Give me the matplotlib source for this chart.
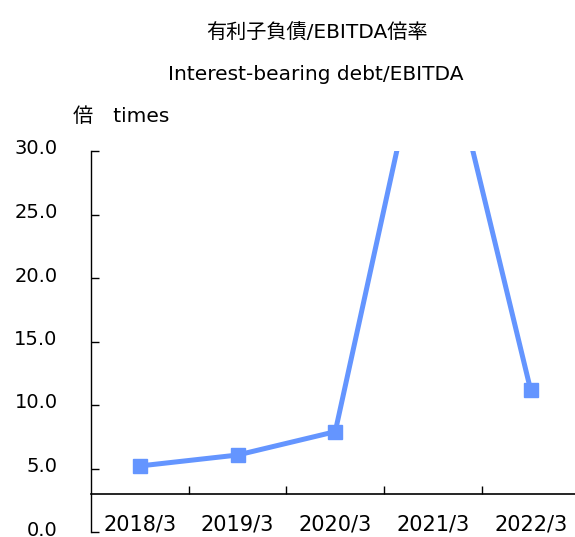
#!/usr/bin/env python3
"""Interest-bearing debt / EBITDA ratio line chart."""

import matplotlib

matplotlib.use("Agg")
import matplotlib.pyplot as plt
from matplotlib.transforms import ScaledTranslation

FONTS = ["DejaVu Sans", "Noto Sans CJK JP"]
plt.rcParams["font.family"] = FONTS

periods = ["2018/3", "2019/3", "2020/3", "2021/3", "2022/3"]
ratio = [5.2, 6.06, 7.9, 43.0, 11.18]

title_jp = "有利子負債/EBITDA倍率"
title_en = "Interest-bearing debt/EBITDA"
unit_label = "倍　times"

y_ticks = [0, 5, 10, 15, 20, 25, 30]
x_cross = 3.0

LINE_COLOR = "#6495FF"
FS_TICK = 14
FS_XTICK = 15
FS_TITLE = 14.5

W, H = 575, 537


def main() -> None:
    fig = plt.figure(figsize=(W / 100, H / 100), dpi=100)
    ax = fig.add_axes([91 / W, 5 / H, 488.5 / W, 381 / H])

    xs = list(range(len(periods)))
    ax.plot(xs, ratio, color=LINE_COLOR, linewidth=3.6, marker="s",
            markersize=10.5, solid_joinstyle="miter")

    ax.set_xlim(-0.5, len(periods) - 0.5)
    ax.set_ylim(0, 30)

    for side in ("top", "right"):
        ax.spines[side].set_visible(False)
    ax.spines["left"].set_linewidth(1.0)
    ax.spines["bottom"].set_position(("data", x_cross))
    ax.spines["bottom"].set_linewidth(1.2)

    ax.set_yticks(y_ticks)
    ax.set_yticklabels([f"{v:.1f}" for v in y_ticks])
    ax.tick_params(axis="y", direction="in", length=6, width=1,
                   labelsize=FS_TICK, pad=24)
    # labels sit a few pixels above their ticks in the reference
    shift = ScaledTranslation(0, 4 / 100, fig.dpi_scale_trans)
    for lbl in ax.get_yticklabels():
        lbl.set_transform(lbl.get_transform() + shift)

    ax.set_xticks([i + 0.5 for i in xs[:-1]])
    ax.set_xticklabels([])
    ax.set_xticks(xs, minor=True)
    ax.set_xticklabels(periods, minor=True)
    ax.tick_params(axis="x", which="major", direction="in", length=6, width=1)
    ax.tick_params(axis="x", which="minor", length=0, labelsize=FS_XTICK, pad=15)

    fig.text(317 / W, 1 - 33 / H, title_jp, ha="center", va="center",
             fontsize=FS_TITLE, family=FONTS)
    fig.text(316 / W, 1 - 74 / H, title_en, ha="center", va="center",
             fontsize=FS_TITLE, family=FONTS)
    fig.text(73 / W, 1 - 117 / H, unit_label, ha="left", va="center",
             fontsize=FS_TITLE, family=FONTS)

    fig.savefig("out.png", dpi=100)
    plt.close(fig)


if __name__ == "__main__":
    main()
